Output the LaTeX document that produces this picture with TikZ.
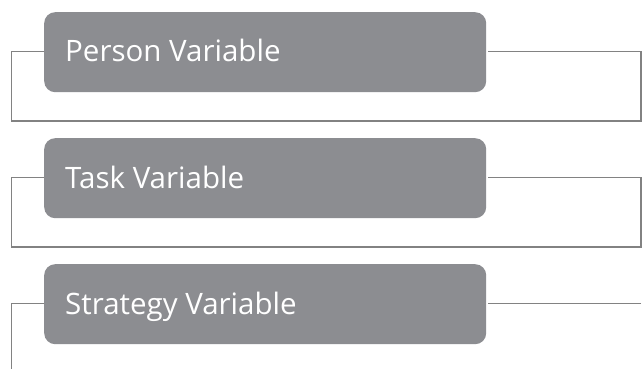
\documentclass[tikz,border=0pt]{standalone}
\usepackage{fontspec}
\setmainfont{Open Sans}
\definecolor{boxgray}{HTML}{8C8D91}
\definecolor{linegray}{HTML}{828282}
\begin{document}
\begin{tikzpicture}[x=1pt,y=-1pt,
  varbox/.style={draw=none,fill=boxgray,rounded corners=11pt,minimum width=442pt,minimum height=80pt,anchor=north west,inner sep=0pt},
  vartext/.style={text=white,anchor=base west,font=\fontsize{29.5}{34}\selectfont,inner sep=0pt},
  conn/.style={draw=linegray,line width=1.6pt}]
\useasboundingbox (0,0) rectangle (642,369);
\fill[white] (0,0) rectangle (642,369);
% boxes
\node[varbox] (b1) at (44,12) {};
\node[varbox] (b2) at (44,138) {};
\node[varbox] (b3) at (44,264) {};
\node[vartext] (t1) at (65,62) {Person Variable};
\node[vartext] (t2) at (65,188) {Task Variable};
\node[vartext] (t3) at (65,314) {Strategy Variable};
% coordinates
\coordinate (l1) at (11.5,51.5);
\coordinate (l1b) at (11.5,121);
\coordinate (r1) at (641,51.5);
\coordinate (r1b) at (641,121);
\coordinate (l2) at (11.5,177.5);
\coordinate (l2b) at (11.5,247);
\coordinate (r2) at (641,177.5);
\coordinate (r2b) at (641,247);
\coordinate (l3) at (11.5,303.5);
\coordinate (l3b) at (11.5,369);
\coordinate (r3) at (641,303.5);
% connectors
\draw[conn] (b1.west |- l1) -- ++(-1.5,0) -- (l1) -- (l1b) -- (r1b) -- (r1) -- ([xshift=2pt]b1.east |- r1);
\draw[conn] (b2.west |- l2) -- ++(-1.5,0) -- (l2) -- (l2b) -- (r2b) -- (r2) -- ([xshift=2pt]b2.east |- r2);
\draw[conn] (b3.west |- l3) -- ++(-1.5,0) -- (l3) -- (l3b);
\draw[conn] (r3) -- ([xshift=2pt]b3.east |- r3);
\end{tikzpicture}
\end{document}
